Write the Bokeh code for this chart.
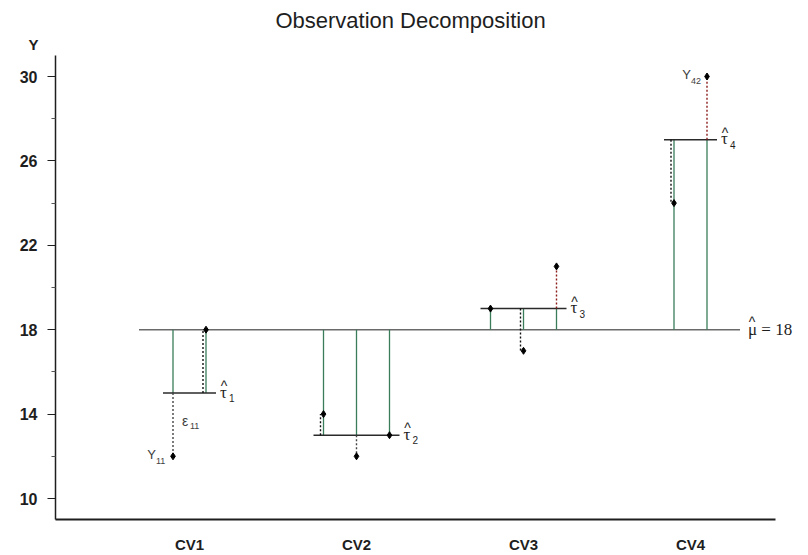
import numpy as np
from bokeh.plotting import figure
from bokeh.models import Range1d, FixedTicker, LinearAxis, ColumnDataSource
from bokeh.core.properties import value
from bokeh.embed import file_html
from bokeh.resources import INLINE

# ---------------- data ----------------
groups = ["CV1", "CV2", "CV3", "CV4"]
observations = [[12, 18], [14, 12, 13], [19, 17, 21], [24, 30]]
grand_mean = 18
y_major_ticks = [10, 14, 18, 22, 26, 30]
y_minor_ticks = [12, 16, 20, 24, 28]
title_text = "Observation Decomposition"

# ---------------- layout helpers (page pixel -> data) ----------------
PX_X = 167.0   # pixels per category unit
PX_Y = 21.1    # pixels per y unit
def dx(px): return px / PX_X
def dy(px): return px / PX_Y
def X(px): return 1 + (px - 189) / PX_X
def Y(py): return 30 - (py - 76) / PX_Y

W, H = 808, 555
SANS = "Liberation Sans"
SERIF = "Liberation Serif"
GREEN = "#3a7d5a"
DARK = "#1e1e1e"

p = figure(width=W, height=H,
           x_range=Range1d(X(0), X(W)), y_range=Range1d(Y(H), Y(0)),
           x_axis_location=None, y_axis_location=None,
           output_backend="svg", toolbar_location=None,
           min_border=0, min_border_left=0, min_border_right=0,
           min_border_top=0, min_border_bottom=0, title=None)
p.grid.visible = False
p.outline_line_color = None
p.background_fill_color = "white"
p.border_fill_color = "white"

cat_x = np.arange(1, len(groups) + 1)
obs_x = []
taus = []
for k, obs in zip(cat_x, observations):
    n = len(obs)
    obs_x.append([k + (i - (n - 1) / 2) * dx(33) for i in range(n)])
    taus.append(float(np.mean(obs)))

all_x = [x for xs in obs_x for x in xs]
mean_start = min(all_x) - dx(34)
mean_end = max(all_x) + dx(33)

# grand mean line
p.line([mean_start, mean_end], [grand_mean, grand_mean], line_color="#6a6a6a", line_width=1.5)

# green treatment-effect verticals
gx, gy0, gy1 = [], [], []
for xs, t in zip(obs_x, taus):
    for x in xs:
        gx.append(x); gy0.append(grand_mean); gy1.append(t)
p.segment(x0=gx, y0=gy0, x1=gx, y1=gy1, line_color=GREEN, line_width=1.3)

# group mean lines
tx0 = [min(xs) - dx(10) for xs in obs_x]
tx1 = [max(xs) + dx(10) for xs in obs_x]
p.segment(x0=tx0, y0=taus, x1=tx1, y1=taus, line_color="#2a2a2a", line_width=1.5)

# residual dotted lines
dxs, dy0, dy1, dcol = [], [], [], []
for xs, obs, t in zip(obs_x, observations, taus):
    for x, y in zip(xs, obs):
        if y == t:
            continue
        overlap = np.sign(y - t) == np.sign(grand_mean - t)
        if overlap:
            xd, col = x - dx(3), "#111111"
        elif y > t:
            xd, col = x, "#8b1a1a"
        else:
            xd, col = x, "#444444"
        dxs.append(xd); dy0.append(t); dy1.append(y); dcol.append(col)
src_d = ColumnDataSource(dict(x=dxs, y0=dy0, y1=dy1, c=dcol))
p.segment(x0="x", y0="y0", x1="x", y1="y1", source=src_d, line_color="c",
          line_width=1.4, line_dash="2 2")

# observation points
px_, py_ = [], []
for xs, obs in zip(obs_x, observations):
    px_ += xs; py_ += obs
p.scatter(px_, py_, marker="diamond", size=7, color="black")

# ---------------- axes (fixed inside the frame) ----------------
x_lo, x_hi = X(55), X(775)
y_lo, y_hi = Y(519), Y(55)

xa = LinearAxis(fixed_location=y_lo, bounds=(x_lo, x_hi))
xa.ticker = FixedTicker(ticks=[int(k) for k in cat_x])
xa.major_label_overrides = {int(k): g for k, g in zip(cat_x, groups)}
xa.major_tick_line_color = None
xa.minor_tick_line_color = None
xa.major_tick_out = 0
xa.major_tick_in = 0
xa.axis_line_width = 2
xa.axis_line_color = DARK
xa.major_label_text_font = SANS
xa.major_label_text_font_size = "15px"
xa.major_label_text_font_style = "bold"
xa.major_label_text_color = DARK
xa.major_label_standoff = 16
p.add_layout(xa, "below")

ya = LinearAxis(fixed_location=x_lo, bounds=(y_lo, y_hi))
ya.ticker = FixedTicker(ticks=y_major_ticks, minor_ticks=y_minor_ticks)
ya.major_tick_out = 8
ya.major_tick_in = 0
ya.minor_tick_out = 4
ya.minor_tick_in = 0
ya.axis_line_width = 1.5
ya.axis_line_color = DARK
ya.major_tick_line_color = DARK
ya.minor_tick_line_color = "#555555"
ya.major_label_text_font = SANS
ya.major_label_text_font_size = "16px"
ya.major_label_text_font_style = "bold"
ya.major_label_text_color = DARK
ya.major_label_standoff = 10
p.add_layout(ya, "left")

# ---------------- annotations ----------------
def txt(x, y, s, size, font=SANS, align="left", baseline="middle", xo=0, yo=0,
        color="#303030", style="normal"):
    p.text(x=[x], y=[y], text=[s], text_font=value(font), text_font_size=size,
           text_align=align, text_baseline=baseline, x_offset=xo, y_offset=yo,
           text_color=color, text_font_style=style)

# Y11 and epsilon11
x11, y11 = obs_x[0][0], observations[0][0]
txt(x11, y11, "Y", "13px", align="right", xo=-17, yo=-2, color="#404040")
txt(x11, y11, "11", "9px", align="left", xo=-17, yo=5, color="#404040")
txt(x11, taus[0], "ε", "14px", align="left", xo=9, yo=28, color="#404040")
txt(x11, taus[0], "11", "9px", align="left", xo=17, yo=33, color="#404040")

# Y42
x42, y42 = obs_x[3][1], observations[3][1]
txt(x42, y42, "Y", "13px", align="right", xo=-16, yo=-2, color="#404040")
txt(x42, y42, "42", "9px", align="left", xo=-16, yo=4, color="#404040")

# tau hats
for i, (xe, t) in enumerate(zip(tx1, taus)):
    txt(xe, t, "τ", "17px", font=SERIF, align="left", xo=4, yo=-1, color=DARK)
    txt(xe, t, "^", "14px", align="center", baseline="alphabetic", xo=8, yo=-7, color=DARK)
    txt(xe, t, str(i + 1), "10px", align="left", xo=13, yo=5, color=DARK)

# mu hat label
txt(mean_end, grand_mean, f"μ = {grand_mean}", "17px", font=SERIF, align="left",
    xo=8, yo=0, color=DARK)
txt(mean_end, grand_mean, "^", "14px", align="center", baseline="alphabetic",
    xo=12, yo=-8, color=DARK)

# axis title "Y"
txt(X(33), Y(44), "Y", "15px", align="center", color=DARK, style="bold")

# chart title
txt(X(410), Y(20), title_text, "22px", align="center", color=DARK)

open("out.html", "w").write(file_html(p, INLINE))
